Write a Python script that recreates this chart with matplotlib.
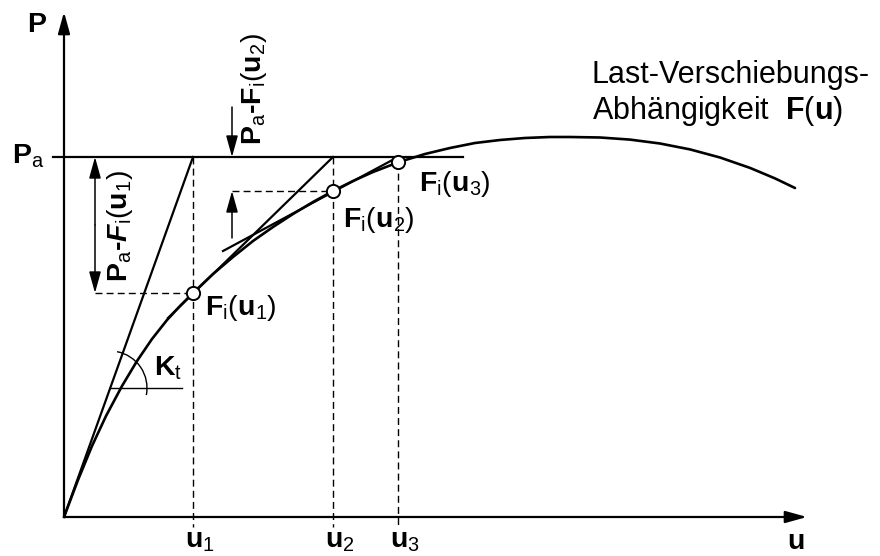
import matplotlib
matplotlib.use('Agg')
import matplotlib.pyplot as plt
from matplotlib.patches import Arc

plt.rcParams['font.family'] = 'Liberation Sans'
plt.rcParams['mathtext.fontset'] = 'custom'
plt.rcParams['mathtext.rm'] = 'Liberation Sans'
plt.rcParams['mathtext.it'] = 'Liberation Sans:italic'
plt.rcParams['mathtext.bf'] = 'Liberation Sans:bold'
plt.rcParams['mathtext.bfit'] = 'Liberation Sans:italic:bold'

# load-displacement curve F(u) (pixel units, y down)
curve_u = [64, 78, 92, 106, 122, 137, 152, 167, 180, 193, 213, 233, 253, 273, 293,
           313, 333, 353, 373, 399, 425, 450, 475, 500, 525, 550, 570, 600, 630,
           660, 690, 720, 750, 775, 795]
curve_p = [517, 480, 446, 416, 386, 361, 339, 320, 306, 293, 274, 257, 241, 227, 214,
           202, 191, 181, 172, 162, 154, 148, 143, 140, 138, 137, 137, 137.5, 139.6,
           143.5, 149.4, 157.5, 167.9, 178.4, 188]

origin = (64, 517)
p_a = 157
u_iter = [193, 333, 398]
f_iter = [293, 191, 162]

# tangent lines (start u, start P, end u, end P)
kt_line = [64, 517, 193, 157]
tan1 = [168, 318, 333, 157]
tan2 = [223, 251, 398, 157]

fig = plt.figure(figsize=(8.8, 5.56), dpi=100)
ax = fig.add_axes([0, 0, 1, 1])
ax.set_xlim(0, 880)
ax.set_ylim(556, 0)
ax.axis('off')

def arrow(x0, y0, x1, y1, lw=1.1):
    ax.annotate('', xy=(x1, y1), xytext=(x0, y0),
                arrowprops=dict(arrowstyle='-|>,head_length=0.65,head_width=0.18',
                                mutation_scale=20, lw=lw, color='black',
                                shrinkA=0, shrinkB=0))

# axes
arrow(origin[0], origin[1], 807, origin[1], lw=1.6)
arrow(origin[0], origin[1], origin[0], 12, lw=1.6)

# P_a level
ax.plot([53, 463], [p_a, p_a], color='black', lw=1.6)

# curve
ax.plot(curve_u, curve_p, color='black', lw=1.9, solid_capstyle='round', solid_joinstyle='round')

# tangents
for ln in [kt_line, tan1, tan2]:
    ax.plot([ln[0], ln[2]], [ln[1], ln[3]], color='black', lw=1.6)

# dashed helper lines
dash = dict(color='black', lw=1.0, linestyle=(0, (5, 3)))
ax.plot([u_iter[0], u_iter[0]], [p_a, 527], **dash)
ax.plot([u_iter[1], u_iter[1]], [p_a, 527], **dash)
ax.plot([u_iter[2], u_iter[2]], [f_iter[2], 527], **dash)
ax.plot([95, u_iter[0]], [f_iter[0], f_iter[0]], **dash)
ax.plot([232, u_iter[1]], [f_iter[1], f_iter[1]], **dash)

# iteration points
ax.plot(u_iter, f_iter, 'o', ms=9.5, mfc='white', mec='black', mew=1.4, zorder=5)

# residual arrows
arrow(95, 225, 95, p_a)
arrow(95, 225, 95, f_iter[0])
arrow(232, 107, 232, p_a)
arrow(232, 238, 232, f_iter[1])

# K_t angle
ax.plot([110, 182], [388, 388], color='black', lw=1.0)
ax.add_patch(Arc((110, 388), 74, 74, theta1=-79, theta2=11, color='black', lw=1.0))

# labels
fs = 20.5
ax.text(27, 32, r'$\mathbf{P}$', fontsize=fs, ha='left', va='baseline')
ax.text(12, 164, r'$\mathbf{P}_\mathrm{a}$', fontsize=fs, ha='left', va='baseline')
ax.text(787, 549, r'$\mathbf{u}$', fontsize=fs, ha='left', va='baseline')
for x, s in zip(u_iter, ['1', '2', '3']):
    ax.text(x - 8, 547, r'$\mathbf{u}_%s$' % s, fontsize=fs, ha='left', va='baseline')

ax.text(205, 315, r'$\mathbf{F}_\mathrm{i}(\mathbf{u}_1)$', fontsize=fs, ha='left', va='baseline')
ax.text(343, 227, r'$\mathbf{F}_\mathrm{i}(\mathbf{u}_2)$', fontsize=fs, ha='left', va='baseline')
ax.text(419, 191, r'$\mathbf{F}_\mathrm{i}(\mathbf{u}_3)$', fontsize=fs, ha='left', va='baseline')
ax.text(154, 376, r'$\mathbf{K}_\mathrm{t}$', fontsize=fs, ha='left', va='baseline')

ax.text(127, 282, r'$\mathbf{P}_\mathrm{a}$-$\mathbfit{F}_\mathrm{i}(\mathbf{u}_1)$',
        fontsize=fs, fontweight='bold', rotation=90, rotation_mode='anchor',
        ha='left', va='baseline')
ax.text(261, 145, r'$\mathbf{P}_\mathrm{a}$-$\mathbf{F}_\mathrm{i}(\mathbf{u}_2)$',
        fontsize=fs, fontweight='bold', rotation=90, rotation_mode='anchor',
        ha='left', va='baseline')

ax.text(592, 83, 'Last-Verschiebungs-', fontsize=22, ha='left', va='baseline')
ax.text(592, 119, r'Abhängigkeit  $\mathbf{F}(\mathbf{u})$', fontsize=22, ha='left', va='baseline')

fig.savefig('out.png', dpi=100)
